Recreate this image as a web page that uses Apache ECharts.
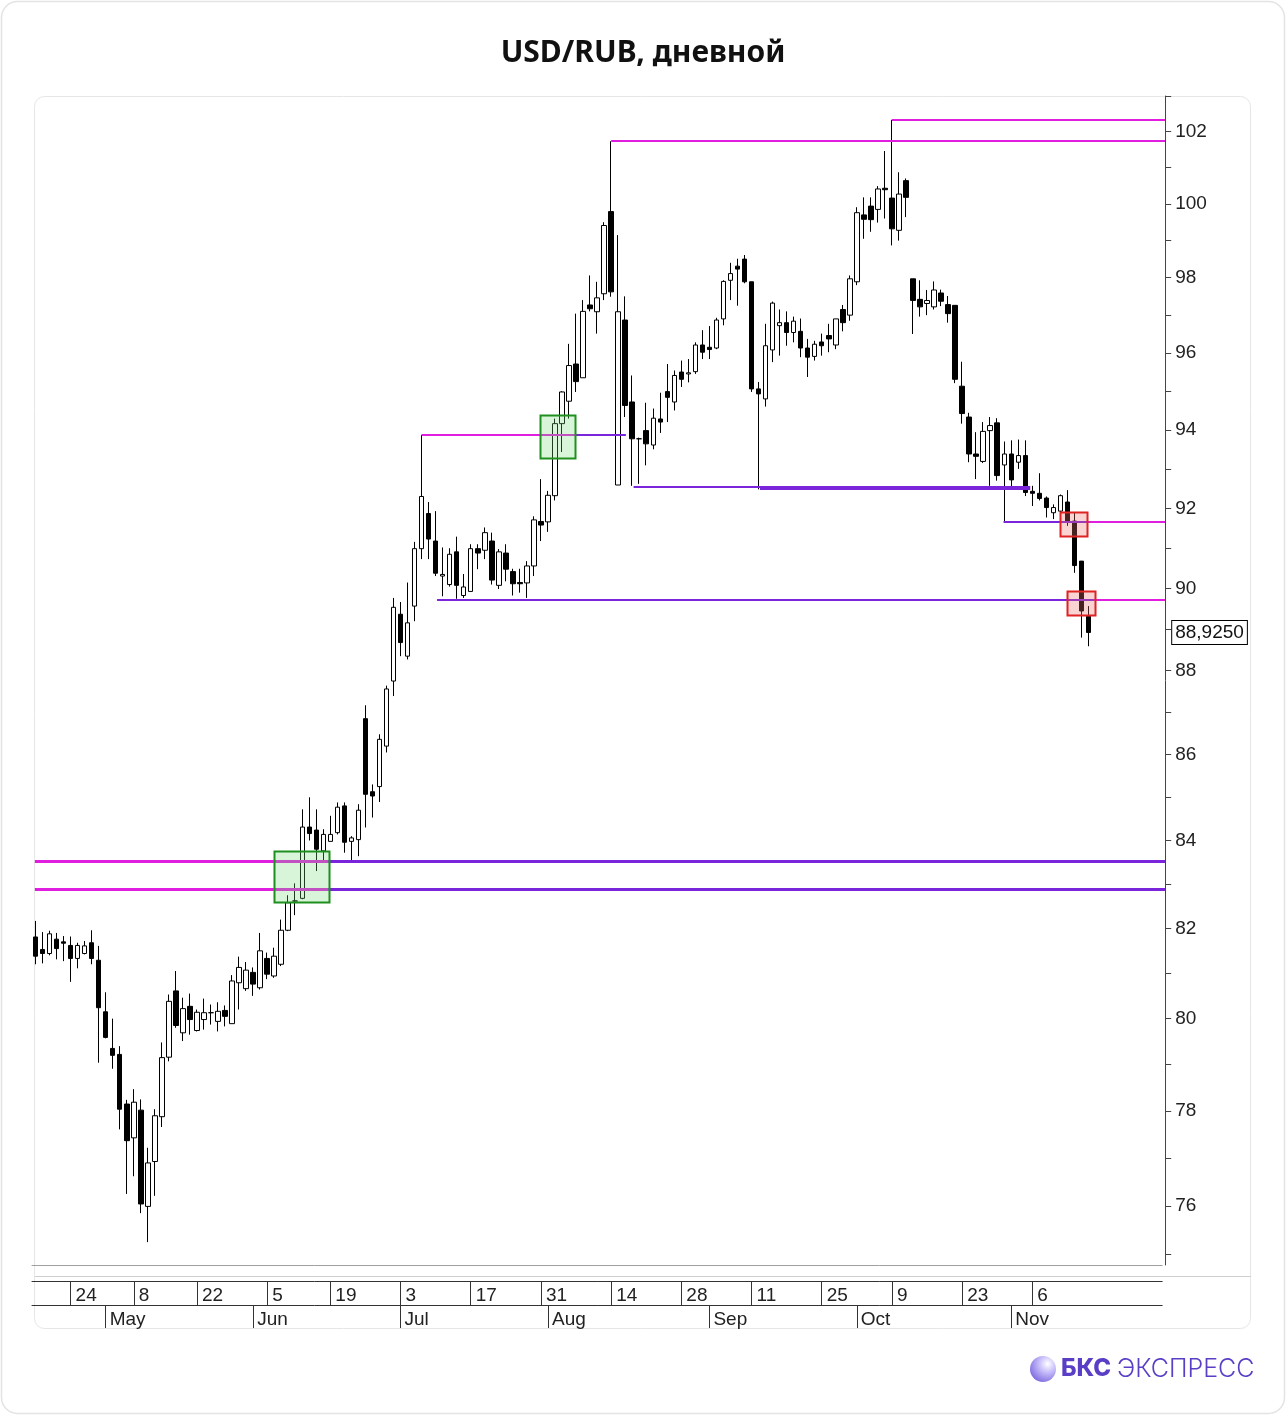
<!DOCTYPE html>
<html><head><meta charset="utf-8">
<script src="https://cdn.jsdelivr.net/npm/echarts@6/dist/echarts.min.js"></script>
<style>html,body{margin:0;padding:0;background:#fff}#c{width:1286px;height:1416px}</style>
</head><body><div id="c"></div>
<script>
// ---------- categories ----------
const firstDay = '2023-04-17';
const lastDay = '2023-11-30';
const holidays = ['2023-05-01', '2023-05-09', '2023-06-12'];
function tradingDays(start, end, skip) {
  const out = [];
  const d = new Date(start + 'T00:00:00Z');
  const e = new Date(end + 'T00:00:00Z');
  while (d <= e) {
    const wd = d.getUTCDay();
    const s = d.toISOString().slice(0, 10);
    if (wd !== 0 && wd !== 6 && skip.indexOf(s) < 0) out.push(s);
    d.setUTCDate(d.getUTCDate() + 1);
  }
  return out;
}
const dates = tradingDays(firstDay, lastDay, holidays);

const dayTicks = ['2023-04-24','2023-05-08','2023-05-22','2023-06-05','2023-06-19','2023-07-03','2023-07-17',
  '2023-07-31','2023-08-14','2023-08-28','2023-09-11','2023-09-25','2023-10-09','2023-10-23','2023-11-06'];
const monthTickDates = ['2023-05-02','2023-06-01','2023-07-03','2023-08-01','2023-09-01','2023-10-02','2023-11-01'];
const monthTickNames = ['May','Jun','Jul','Aug','Sep','Oct','Nov'];

const priceLabels = [76,78,80,82,84,86,88,90,92,94,96,98,100,102];
const priceTicks = [75,76,77,78,79,80,81,82,83,84,85,86,87,88,89,90,91,92,93,94,95,96,97,98,99,100,101,102,103];

// ---------- OHLC ----------
const openP = [81.81,81.53,81.44,81.76,81.70,81.62,81.33,81.44,81.68,81.29,
80.15,79.35,79.22,78.15,77.43,78.02,75.99,76.93,77.88,79.16,
80.61,79.69,80.27,79.74,79.98,80.13,79.94,80.18,79.89,80.79,
80.66,81.02,80.68,81.33,80.94,81.20,81.96,82.62,82.68,84.31,
84.24,83.76,83.98,84.18,84.80,83.98,84.02,86.85,85.13,85.25,
86.20,87.75,89.37,88.35,89.57,90.99,91.87,91.18,90.31,90.10,
90.91,89.83,89.93,90.99,90.95,91.18,90.08,90.88,90.42,90.15,
90.14,90.56,91.67,91.66,92.32,94.16,94.74,95.71,95.35,97.27,
97.09,97.57,99.79,92.59,96.87,94.72,93.77,93.98,93.61,94.28,
94.99,94.72,95.50,95.45,95.51,96.21,96.15,96.13,96.90,97.93,
98.31,98.50,97.89,95.06,94.80,96.08,96.72,96.80,96.54,96.57,
96.13,95.91,96.29,96.46,96.21,97.15,97.00,97.89,99.70,99.94,
99.85,100.43,100.16,99.28,100.64,97.97,97.42,97.31,97.22,97.59,
97.28,97.26,95.13,94.33,93.38,93.19,93.98,94.18,93.10,93.38,
93.17,93.34,92.43,92.38,92.26,91.89,91.93,92.16,91.68,90.68,
89.32];
const highP = [82.17,81.92,81.95,81.90,81.83,81.82,81.68,81.72,81.96,81.61,
80.58,80.00,79.40,78.24,78.47,78.25,77.22,78.04,79.48,80.53,
81.05,80.46,80.55,80.20,80.44,80.31,80.36,80.29,80.96,81.37,
81.25,81.13,81.90,81.46,81.57,82.20,82.75,83.02,84.72,85.00,
84.72,84.26,84.57,84.88,84.88,84.10,84.84,87.17,85.30,86.48,
87.64,89.77,89.67,90.15,91.16,93.87,92.16,91.93,91.02,91.00,
91.29,90.36,91.10,91.10,91.52,91.39,90.98,91.10,90.49,90.49,
90.68,91.80,92.74,92.44,94.29,95.00,96.24,97.04,97.40,98.06,
97.89,99.50,101.73,99.15,97.50,95.41,93.80,94.70,94.55,94.96,
95.71,95.54,95.80,95.84,96.28,96.60,96.71,96.93,97.93,98.40,
98.51,98.61,97.89,95.24,96.77,97.36,97.15,97.10,96.96,96.91,
96.37,96.32,96.51,96.77,96.90,97.27,98.06,99.91,100.18,100.18,
100.49,101.46,102.33,100.87,100.70,97.97,97.93,97.67,97.90,97.68,
97.51,97.26,95.77,94.44,93.94,94.20,94.33,94.30,93.70,93.73,
93.75,93.73,92.57,92.89,92.30,92.10,92.35,92.46,91.89,90.68,
89.57];
const lowP = [81.20,81.22,81.40,81.31,81.27,80.81,81.11,81.42,81.20,79.04,
79.57,78.91,77.61,76.25,76.62,75.85,75.25,76.21,77.66,79.07,
79.80,79.51,79.65,79.72,79.76,79.87,79.72,79.83,79.89,80.20,
80.61,80.50,80.64,80.87,80.90,81.16,81.94,82.30,82.66,84.00,
83.30,83.53,83.98,84.14,83.72,83.53,83.64,84.30,84.53,84.89,
86.05,87.39,88.35,88.27,89.20,90.73,90.73,90.31,89.81,90.05,
89.75,89.77,89.93,90.48,90.73,90.10,89.99,90.18,89.83,89.90,
89.77,90.31,91.18,91.41,92.20,93.43,94.29,94.98,95.35,97.10,
96.51,97.40,97.49,92.59,94.33,92.57,92.62,93.09,93.50,93.92,
94.20,94.50,95.11,95.23,95.45,95.84,95.84,96.10,96.73,97.40,
97.25,97.85,94.98,92.48,94.60,95.76,95.93,96.19,96.28,95.89,
95.37,95.80,95.93,96.02,96.10,96.57,96.85,97.80,99.05,99.24,
99.49,99.60,98.87,99.00,99.64,96.50,96.96,97.00,97.15,97.24,
96.80,95.21,94.16,93.17,92.74,93.15,92.57,92.70,91.65,92.48,
93.00,92.31,92.06,92.20,91.77,91.73,91.85,91.56,90.39,88.80,
88.59];
const closeP = [81.38,81.44,81.88,81.55,81.67,81.33,81.62,81.61,81.33,80.24,
79.59,79.20,78.04,77.37,78.19,76.04,76.90,77.90,79.15,80.38,
79.85,80.22,79.98,80.14,80.13,80.13,80.16,80.05,80.83,81.13,
81.07,80.76,81.50,80.98,81.38,81.96,82.58,82.62,84.31,84.16,
83.80,84.14,84.14,84.77,83.96,84.06,84.70,85.07,85.03,86.36,
87.56,89.54,88.68,89.16,90.99,92.30,91.23,90.38,90.35,90.85,
90.08,90.04,90.99,90.88,91.39,90.21,90.91,90.48,90.12,90.12,
90.56,91.71,91.58,92.33,94.16,94.98,95.67,95.25,97.10,97.17,
97.46,99.41,97.62,97.09,94.63,93.77,93.77,93.64,94.30,94.20,
94.84,95.41,95.31,95.48,96.21,96.02,96.09,96.87,97.90,98.11,
98.23,97.89,95.06,94.93,96.19,97.32,96.80,96.54,96.84,96.13,
95.89,96.23,96.19,96.37,96.90,96.80,97.97,99.76,99.58,99.57,
100.41,100.39,99.32,100.27,100.18,97.39,97.22,97.39,97.67,97.37,
97.04,95.31,94.42,93.38,93.32,93.96,94.11,92.83,93.38,92.72,
93.34,92.40,92.38,92.25,92.02,92.02,92.32,91.68,90.57,89.45,
88.925];

// ---------- support / resistance levels (index in trading days, price) ----------
const segFrom  = [-0.09, 41.67, -0.09, 41.67, 55.0, 76.9, 82.0, 122.0, 85.2, 103.2, 137.9, 149.8, 57.2, 150.9];
const segTo    = [41.67, 160.9, 41.67, 160.9, 76.9, 84.1, 160.9, 160.9, 141.7, 141.7, 149.8, 160.9, 150.9, 160.9];
const segPrice = [83.52, 83.52, 82.89, 82.89, 93.87, 93.87, 101.73, 102.33, 92.55, 92.48, 91.65, 91.65, 89.73, 89.73];
const segKind  = ['R','S','R','S','R','S','R','R','S','S','S','R','S','R'];
const segMajor = [1,1,1,1,0,0,0,0,0,0,0,0,0,0];

// ---------- highlight boxes ----------
const boxFrom = [33.96, 71.85, 145.9, 146.9];
const boxTo   = [41.8, 76.84, 149.8, 150.9];
const boxHigh = [83.75, 94.39, 91.9, 89.93];
const boxLow  = [82.59, 93.28, 91.3, 89.34];
const boxKind = ['buy', 'buy', 'sell', 'sell'];

// ---------- build ----------
const ln = Math.log;
const candleData = dates.map((d, i) => i < openP.length
  ? [ln(openP[i]), ln(closeP[i]), ln(lowP[i]), ln(highP[i])] : '-');
const lastClose = closeP[closeP.length - 1];
const lastLabel = lastClose.toFixed(4).replace('.', ',');
const dayTickSet = new Set(dayTicks);
const monthMap = {};
monthTickDates.forEach((d, i) => { monthMap[d] = monthTickNames[i]; });

const MAGENTA = '#e01ee0', PURPLE = '#7a24dc';
const FONT = "'Liberation Sans', Arial, sans-serif";
const yMinPrice = 74.78, yMaxPrice = 103.0;

const chart = echarts.init(document.getElementById('c'), null, { renderer: 'canvas' });
chart.setOption({
  animation: false,
  backgroundColor: 'transparent',
  textStyle: { fontFamily: FONT },
  grid: { left: 32, top: 96, right: 123.8, bottom: 151, outerBoundsMode: 'none', containLabel: false },
  graphic: [
    { type: 'rect', z: -10, shape: { x: 1.5, y: 1.5, width: 1283, height: 1412, r: 16 },
      style: { fill: '#fff', stroke: '#e3e3e3', lineWidth: 1.5 } },
    { type: 'rect', z: -9, shape: { x: 34.5, y: 96.5, width: 1216, height: 1232, r: 10 },
      style: { fill: '#fff', stroke: '#e6e6e6', lineWidth: 1 } },
    { type: 'line', z: -8, shape: { x1: 35, y1: 1276.5, x2: 1251, y2: 1276.5 },
      style: { stroke: '#cfcfcf', lineWidth: 1 } },
    { type: 'text', x: 643, y: 53, style: { text: 'USD/RUB, дневной', fill: '#111',
      font: "700 30px 'Noto Sans', 'Open Sans', sans-serif", textAlign: 'center', textVerticalAlign: 'middle' } },
    { type: 'circle', shape: { cx: 1043, cy: 1369, r: 13 },
      style: { fill: new echarts.graphic.RadialGradient(0.68, 0.3, 0.9, [
        { offset: 0, color: '#ffffff' }, { offset: 0.35, color: '#c9c0fb' }, { offset: 1, color: '#6a55d8' }]) } },
    { type: 'text', x: 1061, y: 1369, style: { text: 'БКС', fill: '#5a3fc6',
      font: "800 24px Inter, 'Noto Sans', sans-serif", textVerticalAlign: 'middle' } },
    { type: 'text', x: 1117, y: 1369, style: { text: 'ЭКСПРЕСС', fill: '#5a3fc6',
      font: "300 25px Inter, 'Noto Sans', sans-serif", textVerticalAlign: 'middle' } }
  ],
  xAxis: [
    { type: 'category', data: dates, boundaryGap: true,
      axisLine: { show: true, onZero: false, lineStyle: { color: '#a0a0a0', width: 1 } },
      axisTick: { show: false }, axisLabel: { show: false }, splitLine: { show: false } },
    { type: 'category', data: dates, boundaryGap: true, position: 'bottom', offset: 16,
      axisLine: { show: true, onZero: false, lineStyle: { color: '#333', width: 1 } },
      axisTick: { show: true, alignWithLabel: true, length: 24, lineStyle: { color: '#333' },
        interval: (i, v) => dayTickSet.has(v) },
      axisLabel: { show: true, interval: (i, v) => dayTickSet.has(v),
        formatter: v => dayTickSet.has(v) ? String(parseInt(v.slice(8), 10)) : '', align: 'left', padding: [0, 0, 0, 5],
        margin: 5, fontSize: 19, lineHeight: 19, color: '#222', fontFamily: FONT },
      splitLine: { show: false } },
    { type: 'category', data: dates, boundaryGap: true, position: 'bottom', offset: 40,
      axisLine: { show: true, onZero: false, lineStyle: { color: '#333', width: 1 } },
      axisTick: { show: true, alignWithLabel: true, length: 23, lineStyle: { color: '#333' },
        interval: (i, v) => v in monthMap },
      axisLabel: { show: true, interval: (i, v) => v in monthMap,
        formatter: v => monthMap[v] || '', align: 'left', padding: [0, 0, 0, 4],
        margin: 5, fontSize: 19, lineHeight: 19, color: '#222', fontFamily: FONT },
      splitLine: { show: false } },
    { type: 'value', min: -0.5, max: dates.length - 0.5, show: false,
      axisLine: { onZero: false } }
  ],
  yAxis: [{
    type: 'value', position: 'right', offset: 3, min: ln(yMinPrice), max: ln(yMaxPrice),
    axisLine: { show: true, onZero: false, lineStyle: { color: '#444', width: 1 } },
    axisTick: { show: true, length: 6, customValues: priceTicks.map(ln), lineStyle: { color: '#444' } },
    axisLabel: { show: true, customValues: priceLabels.map(ln), formatter: v => String(Math.round(Math.exp(v))),
      margin: 10, fontSize: 19, color: '#222', fontFamily: FONT, padding: [4, 0, 0, 0] },
    splitLine: { show: false }
  }, {
    type: 'value', position: 'right', offset: 3, min: ln(yMinPrice), max: ln(yMaxPrice),
    axisLine: { show: false, onZero: false }, axisTick: { show: false }, splitLine: { show: false },
    axisLabel: { show: true, customValues: [ln(lastClose)], formatter: () => lastLabel,
      margin: 7, fontSize: 19, color: '#111', fontFamily: FONT, backgroundColor: '#fff',
      borderColor: '#000', borderWidth: 1, padding: [4, 3, 0, 3] }
  }],
  series: [
    { type: 'candlestick', xAxisIndex: 0, yAxisIndex: 0, data: candleData, barWidth: 5, z: 2,
      itemStyle: { color: '#ffffff', color0: '#000000', borderColor: '#000000', borderColor0: '#000000',
        borderColorDoji: '#000000', borderWidth: 1 } },
    { type: 'custom', xAxisIndex: 3, yAxisIndex: 0, z: 3, silent: true,
      data: segFrom.map((f, i) => [f, segTo[i], ln(segPrice[i])]),
      encode: { x: [0, 1], y: 2 },
      renderItem: (params, api) => {
        const i = params.dataIndex;
        const a = api.coord([segFrom[i], ln(segPrice[i])]);
        const b = api.coord([segTo[i], ln(segPrice[i])]);
        const w = segMajor[i] ? 3 : 2;
        const y = Math.round(a[1]) + (w % 2 ? 0.5 : 0);
        return { type: 'line', shape: { x1: a[0], y1: y, x2: b[0], y2: y },
          style: { stroke: segKind[i] === 'R' ? MAGENTA : PURPLE, lineWidth: w } };
      } },
    { type: 'custom', xAxisIndex: 3, yAxisIndex: 0, z: 4, silent: true,
      data: boxFrom.map((f, i) => [f, boxTo[i], ln(boxHigh[i]), ln(boxLow[i])]),
      encode: { x: [0, 1], y: [2, 3] },
      renderItem: (params, api) => {
        const i = params.dataIndex;
        const p1 = api.coord([boxFrom[i], ln(boxHigh[i])]);
        const p2 = api.coord([boxTo[i], ln(boxLow[i])]);
        const buy = boxKind[i] === 'buy';
        return { type: 'rect',
          shape: { x: Math.round(p1[0]) + 0.5, y: Math.round(p1[1]) + 0.5,
            width: Math.round(p2[0] - p1[0]), height: Math.round(p2[1] - p1[1]) },
          style: { fill: buy ? 'rgba(120,220,120,0.28)' : 'rgba(240,110,110,0.3)',
            stroke: buy ? '#1f8f1f' : '#e02222', lineWidth: 2 } };
      } }
  ]
});
</script>
</body></html>
